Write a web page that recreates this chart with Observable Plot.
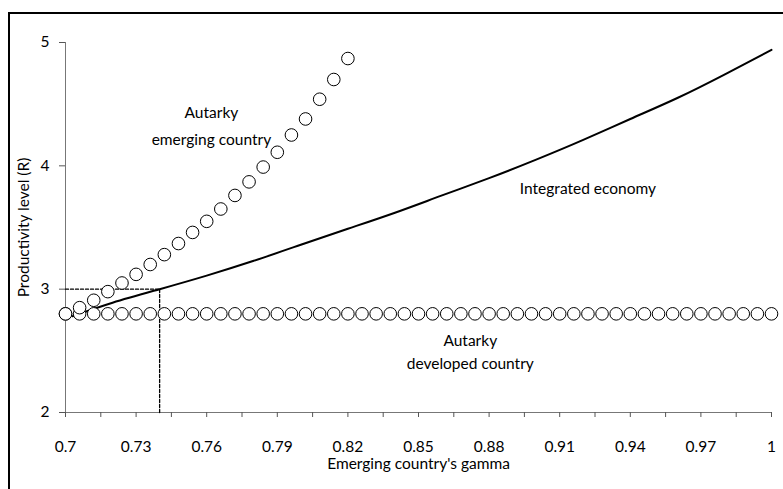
<!DOCTYPE html>
<html>
<head>
<meta charset="utf-8">
<script src="https://cdn.jsdelivr.net/npm/d3@7"></script>
<script src="https://cdn.jsdelivr.net/npm/@observablehq/plot@0.6"></script>
<style>
  body { margin: 0; background: #fff; }
  #frame { position: absolute; left: 8px; top: 12px; width: 790px; height: 490px;
           border-left: 2px solid #000; border-top: 2px solid #000; }
  #chart { position: absolute; left: 0; top: 0; }
</style>
</head>
<body>
<div id="frame"></div>
<div id="chart"></div>
<script>
// Autarky, emerging country (step 0.006)
const emergingGamma = [0.700, 0.706, 0.712, 0.718, 0.724, 0.730, 0.736, 0.742, 0.748, 0.754, 0.760,
                       0.766, 0.772, 0.778, 0.784, 0.790, 0.796, 0.802, 0.808, 0.814, 0.820];
const emergingR = [2.80, 2.85, 2.91, 2.98, 3.05, 3.12, 3.20, 3.28, 3.37, 3.46, 3.55,
                   3.65, 3.76, 3.87, 3.99, 4.11, 4.25, 4.38, 4.54, 4.70, 4.87];

// Autarky, developed country: flat at 2.8
const developedGamma = d3.range(0, 51).map(i => +(0.7 + i * 0.006).toFixed(3));
const developedR = developedGamma.map(() => 2.8);

// Integrated economy curve
const integratedGamma = [0.703, 0.72, 0.74, 0.76, 0.78, 0.80, 0.82, 0.84, 0.86, 0.88, 0.90, 0.92, 0.94, 0.96, 0.98, 1.0];
const integratedR = [2.78, 2.89, 3.0, 3.11, 3.23, 3.36, 3.49, 3.62, 3.76, 3.90, 4.05, 4.21, 4.38, 4.55, 4.74, 4.94];

// Reference point where integrated economy crosses R = 3
const refGamma = 0.74;
const refR = 3;

const majorTicks = [0.7, 0.73, 0.76, 0.79, 0.82, 0.85, 0.88, 0.91, 0.94, 0.97, 1];
const minorTicks = d3.range(0, 21).map(i => +(0.7 + i * 0.015).toFixed(3));
const yTicks = [2, 3, 4, 5];

const labels = [
  { x: 0.762, y: 4.43, text: "Autarky" },
  { x: 0.762, y: 4.21, text: "emerging country" },
  { x: 0.922, y: 3.81, text: "Integrated economy" },
  { x: 0.872, y: 2.58, text: "Autarky" },
  { x: 0.872, y: 2.39, text: "developed country" }
];

const emerging = emergingGamma.map((g, i) => ({ g, r: emergingR[i] }));
const developed = developedGamma.map((g, i) => ({ g, r: developedR[i] }));
const integrated = integratedGamma.map((g, i) => ({ g, r: integratedR[i] }));

const plot = Plot.plot({
  width: 783,
  height: 489,
  marginLeft: 65,
  marginRight: 12,
  marginTop: 42,
  marginBottom: 77,
  style: { fontFamily: "Lato, sans-serif", fontSize: "15.5px", background: "transparent" },
  x: { domain: [0.7, 1] },
  y: { domain: [2, 5] },
  marks: [
    Plot.ruleY([2], { stroke: "#777" }),
    Plot.ruleX([0.7], { stroke: "#777" }),
    Plot.axisX(minorTicks, { tickSize: 5, tickFormat: () => "", stroke: "#555", label: null }),
    Plot.axisX(majorTicks, { tickSize: 0, tickPadding: 28, tickFormat: d => String(d), fill: "#000",
      label: "Emerging country's gamma", labelAnchor: "center", labelArrow: "none", labelOffset: 56 }),
    Plot.axisY(yTicks, { tickSize: 6, tickPadding: 10, tickFormat: d => String(d), stroke: "#555", fill: "#000",
      label: "Productivity level (R)", labelAnchor: "center", labelArrow: "none", labelOffset: 48 }),
    Plot.line([{ g: 0.7, r: refR }, { g: refGamma, r: refR }], { x: "g", y: "r", stroke: "#000", strokeDasharray: "3,2", strokeWidth: 1.3 }),
    Plot.line([{ g: refGamma, r: 2 }, { g: refGamma, r: refR }], { x: "g", y: "r", stroke: "#000", strokeDasharray: "3,2", strokeWidth: 1.3 }),
    Plot.line(integrated, { x: "g", y: "r", curve: "natural", stroke: "#000", strokeWidth: 2 }),
    Plot.dot(developed, { x: "g", y: "r", r: 6.3, fill: "#fff", stroke: "#000", strokeWidth: 1 }),
    Plot.dot(emerging, { x: "g", y: "r", r: 6.3, fill: "#fff", stroke: "#000", strokeWidth: 1 }),
    Plot.text(labels, { x: "x", y: "y", text: "text", fontSize: 15.5, fill: "#000" })
  ]
});
document.getElementById("chart").appendChild(plot);
</script>
</body>
</html>
